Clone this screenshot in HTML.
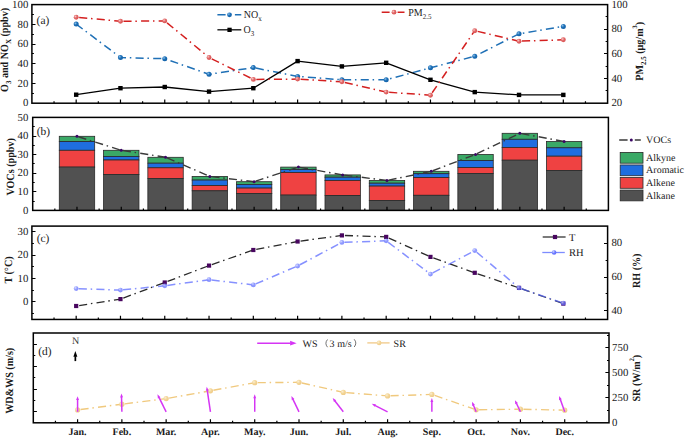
<!DOCTYPE html>
<html><head><meta charset="utf-8"><title>Figure</title>
<style>
html,body{margin:0;padding:0;background:#fff;}
body{width:685px;height:438px;overflow:hidden;}
svg{display:block;font-family:"Liberation Serif",serif;text-rendering:geometricPrecision;}
text{fill:#1a1a1a;}
</style></head>
<body>
<svg width="685" height="438" viewBox="0 0 685 438">
<defs>
<radialGradient id="gBlue" cx="0.35" cy="0.35" r="0.7"><stop offset="0" stop-color="#8fc0ea"/><stop offset="0.45" stop-color="#1f72b8"/><stop offset="1" stop-color="#0f5ea6"/></radialGradient>
<radialGradient id="gRed" cx="0.35" cy="0.35" r="0.7"><stop offset="0" stop-color="#f6c9c9"/><stop offset="0.45" stop-color="#e26a6a"/><stop offset="1" stop-color="#d85050"/></radialGradient>
<radialGradient id="gRH" cx="0.35" cy="0.35" r="0.7"><stop offset="0" stop-color="#d0d6ff"/><stop offset="0.5" stop-color="#6f7cff"/><stop offset="1" stop-color="#5a68ff"/></radialGradient>
<radialGradient id="gSR" cx="0.35" cy="0.35" r="0.7"><stop offset="0" stop-color="#fbefd2"/><stop offset="0.5" stop-color="#f3d699"/><stop offset="1" stop-color="#efca84"/></radialGradient>
</defs>
<rect width="685" height="438" fill="#fff"/>
<rect x="31.9" y="4.6" width="575.7" height="98.6" fill="none" stroke="#000" stroke-width="1.5"/>
<path d="M76.18 103.2v-3.6M120.47 103.2v-3.6M164.75 103.2v-3.6M209.04 103.2v-3.6M253.32 103.2v-3.6M297.61 103.2v-3.6M341.89 103.2v-3.6M386.18 103.2v-3.6M430.46 103.2v-3.6M474.75 103.2v-3.6M519.03 103.2v-3.6M563.32 103.2v-3.6M54.04 103.2v-2M98.33 103.2v-2M142.61 103.2v-2M186.9 103.2v-2M231.18 103.2v-2M275.47 103.2v-2M319.75 103.2v-2M364.03 103.2v-2M408.32 103.2v-2M452.6 103.2v-2M496.89 103.2v-2M541.17 103.2v-2M585.46 103.2v-2" stroke="#000" stroke-width="1.2"/>
<path d="M31.9 83.5h3.6M31.9 63.5h3.6M31.9 44.5h3.6M31.9 24.5h3.6M31.9 93.5h2M31.9 73.5h2M31.9 53.5h2M31.9 34.5h2M31.9 14.5h2" stroke="#000" stroke-width="1.2"/>
<path d="M607.6 78.5h-3.6M607.6 53.5h-3.6M607.6 29.5h-3.6M607.6 90.5h-2M607.6 66.5h-2M607.6 41.5h-2M607.6 16.5h-2" stroke="#000" stroke-width="1.2"/>
<text x="28.3" y="106.4" font-size="10.8" text-anchor="end" >0</text>
<text x="28.3" y="86.68" font-size="10.8" text-anchor="end" >20</text>
<text x="28.3" y="66.96" font-size="10.8" text-anchor="end" >40</text>
<text x="28.3" y="47.24" font-size="10.8" text-anchor="end" >60</text>
<text x="28.3" y="27.52" font-size="10.8" text-anchor="end" >80</text>
<text x="28.3" y="7.8" font-size="10.8" text-anchor="end" >100</text>
<text x="611.4" y="106.4" font-size="10.8" text-anchor="start" >20</text>
<text x="611.4" y="81.75" font-size="10.8" text-anchor="start" >40</text>
<text x="611.4" y="57.1" font-size="10.8" text-anchor="start" >60</text>
<text x="611.4" y="32.45" font-size="10.8" text-anchor="start" >80</text>
<text x="611.4" y="7.8" font-size="10.8" text-anchor="start" >100</text>
<polyline points="76.18,24.1 120.47,57.5 164.75,58.7 209.04,74.3 253.32,67.6 297.61,76.4 341.89,79.8 386.18,79.8 430.46,67.8 474.75,56.3 519.03,33.8 563.32,26.4" fill="none" stroke="#1f70b6" stroke-width="1.5" stroke-dasharray="8.1 3.8 1.5 4.24" stroke-dashoffset="0" stroke-linejoin="round" />
<circle cx="76.18" cy="24.1" r="2.5" fill="url(#gBlue)"/>
<circle cx="120.47" cy="57.5" r="2.5" fill="url(#gBlue)"/>
<circle cx="164.75" cy="58.7" r="2.5" fill="url(#gBlue)"/>
<circle cx="209.04" cy="74.3" r="2.5" fill="url(#gBlue)"/>
<circle cx="253.32" cy="67.6" r="2.5" fill="url(#gBlue)"/>
<circle cx="297.61" cy="76.4" r="2.5" fill="url(#gBlue)"/>
<circle cx="341.89" cy="79.8" r="2.5" fill="url(#gBlue)"/>
<circle cx="386.18" cy="79.8" r="2.5" fill="url(#gBlue)"/>
<circle cx="430.46" cy="67.8" r="2.5" fill="url(#gBlue)"/>
<circle cx="474.75" cy="56.3" r="2.5" fill="url(#gBlue)"/>
<circle cx="519.03" cy="33.8" r="2.5" fill="url(#gBlue)"/>
<circle cx="563.32" cy="26.4" r="2.5" fill="url(#gBlue)"/>
<polyline points="76.18,94.7 120.47,88.2 164.75,87 209.04,91.6 253.32,88.2 297.61,61.1 341.89,66.4 386.18,62.8 430.46,79.8 474.75,92.1 519.03,94.9 563.32,94.9" fill="none" stroke="#000" stroke-width="1.3" stroke-linejoin="round" />
<rect x="73.98" y="92.5" width="4.4" height="4.4" fill="#000"/>
<rect x="118.27" y="86" width="4.4" height="4.4" fill="#000"/>
<rect x="162.55" y="84.8" width="4.4" height="4.4" fill="#000"/>
<rect x="206.84" y="89.4" width="4.4" height="4.4" fill="#000"/>
<rect x="251.12" y="86" width="4.4" height="4.4" fill="#000"/>
<rect x="295.41" y="58.9" width="4.4" height="4.4" fill="#000"/>
<rect x="339.69" y="64.2" width="4.4" height="4.4" fill="#000"/>
<rect x="383.98" y="60.6" width="4.4" height="4.4" fill="#000"/>
<rect x="428.26" y="77.6" width="4.4" height="4.4" fill="#000"/>
<rect x="472.55" y="89.9" width="4.4" height="4.4" fill="#000"/>
<rect x="516.83" y="92.7" width="4.4" height="4.4" fill="#000"/>
<rect x="561.12" y="92.7" width="4.4" height="4.4" fill="#000"/>
<path d="M79.17 17.48L120.47 21.3M123.47 21.27L164.75 20.9M167.07 22.81L209.04 57.5M211.73 58.83L253.32 79.4M256.32 79.38L297.61 79.1M300.6 79.28L341.89 81.8M344.81 82.48L386.18 92.1M389.17 92.31L430.46 95.2M432.16 92.73L474.75 30.7M477.67 31.39L519.03 41.2M522.03 41.11L563.32 39.8" fill="none" stroke="#d42020" stroke-width="1.5" stroke-dasharray="8.1 3.8 1.5 4.2"/>
<circle cx="76.18" cy="17.2" r="2.45" fill="url(#gRed)"/>
<circle cx="120.47" cy="21.3" r="2.45" fill="url(#gRed)"/>
<circle cx="164.75" cy="20.9" r="2.45" fill="url(#gRed)"/>
<circle cx="209.04" cy="57.5" r="2.45" fill="url(#gRed)"/>
<circle cx="253.32" cy="79.4" r="2.45" fill="url(#gRed)"/>
<circle cx="297.61" cy="79.1" r="2.45" fill="url(#gRed)"/>
<circle cx="341.89" cy="81.8" r="2.45" fill="url(#gRed)"/>
<circle cx="386.18" cy="92.1" r="2.45" fill="url(#gRed)"/>
<circle cx="430.46" cy="95.2" r="2.45" fill="url(#gRed)"/>
<circle cx="474.75" cy="30.7" r="2.45" fill="url(#gRed)"/>
<circle cx="519.03" cy="41.2" r="2.45" fill="url(#gRed)"/>
<circle cx="563.32" cy="39.8" r="2.45" fill="url(#gRed)"/>
<path d="M217.4 14.8h8.2M234.9 14.8h6.4" stroke="#1f70b6" stroke-width="1.4"/>
<circle cx="229.5" cy="14.8" r="2.4" fill="url(#gBlue)"/>
<text x="243.8" y="18.3" font-size="10" text-anchor="start" transform="translate(0 18.3) scale(1 1.06) translate(0 -18.3)">NO<tspan font-size="7" dy="2.6">x</tspan></text>
<path d="M217.4 29.8h23.9" stroke="#1a1a1a" stroke-width="1.4"/>
<rect x="227.4" y="27.7" width="4.3" height="4.3" fill="#000"/>
<text x="243.5" y="33.1" font-size="10" text-anchor="start" transform="translate(0 33.1) scale(1 1.06) translate(0 -33.1)">O<tspan font-size="7" dy="2.6">3</tspan></text>
<path d="M381.7 12.2h7.9M397.6 12.2h6.9" stroke="#d42020" stroke-width="1.4"/>
<circle cx="394" cy="12.2" r="2.4" fill="url(#gRed)"/>
<text x="408.2" y="16" font-size="10" text-anchor="start" transform="translate(0 16) scale(1 1.06) translate(0 -16)">PM<tspan font-size="7" dy="3">2.5</tspan></text>
<text x="36.6" y="24.2" font-size="11.4" text-anchor="start" >(a)</text>
<text transform="translate(8.2 49.9) rotate(-90) scale(0.92 1)" x="0" y="0" font-size="11" font-weight="bold" text-anchor="middle">O<tspan font-size="7.5" dy="2.6">3</tspan><tspan dy="-2.6"> and NO</tspan><tspan font-size="7.5" dy="2.6">X</tspan><tspan dy="-2.6"> (ppbv)</tspan></text>
<text transform="translate(643.4 51.3) rotate(-90) scale(0.92 1)" x="0" y="0" font-size="11" font-weight="bold" text-anchor="middle">PM<tspan font-size="7.5" dy="2.6">2.5</tspan><tspan dy="-2.6"> (&#956;g/m</tspan><tspan font-size="6.8" dy="-6">3</tspan><tspan dy="6">)</tspan></text>
<rect x="59.28" y="136.3" width="35.4" height="5.3" fill="#3aa966" stroke="#2a2a2a" stroke-width="0.8"/>
<rect x="59.28" y="141.6" width="35.4" height="8.7" fill="#1f6ee0" stroke="#2a2a2a" stroke-width="0.8"/>
<rect x="59.28" y="150.3" width="35.4" height="16.8" fill="#ef4242" stroke="#2a2a2a" stroke-width="0.8"/>
<rect x="59.28" y="167.1" width="35.4" height="43.3" fill="#515151" stroke="#2a2a2a" stroke-width="0.8"/>
<rect x="103.57" y="150.3" width="35.4" height="6.2" fill="#3aa966" stroke="#2a2a2a" stroke-width="0.8"/>
<rect x="103.57" y="156.5" width="35.4" height="3.5" fill="#1f6ee0" stroke="#2a2a2a" stroke-width="0.8"/>
<rect x="103.57" y="160" width="35.4" height="14.5" fill="#ef4242" stroke="#2a2a2a" stroke-width="0.8"/>
<rect x="103.57" y="174.5" width="35.4" height="35.9" fill="#515151" stroke="#2a2a2a" stroke-width="0.8"/>
<rect x="147.85" y="157.3" width="35.4" height="5.9" fill="#3aa966" stroke="#2a2a2a" stroke-width="0.8"/>
<rect x="147.85" y="163.2" width="35.4" height="4.6" fill="#1f6ee0" stroke="#2a2a2a" stroke-width="0.8"/>
<rect x="147.85" y="167.8" width="35.4" height="10.7" fill="#ef4242" stroke="#2a2a2a" stroke-width="0.8"/>
<rect x="147.85" y="178.5" width="35.4" height="31.9" fill="#515151" stroke="#2a2a2a" stroke-width="0.8"/>
<rect x="192.14" y="176.4" width="35.4" height="3.7" fill="#3aa966" stroke="#2a2a2a" stroke-width="0.8"/>
<rect x="192.14" y="180.1" width="35.4" height="5.5" fill="#1f6ee0" stroke="#2a2a2a" stroke-width="0.8"/>
<rect x="192.14" y="185.6" width="35.4" height="5.2" fill="#ef4242" stroke="#2a2a2a" stroke-width="0.8"/>
<rect x="192.14" y="190.8" width="35.4" height="19.6" fill="#515151" stroke="#2a2a2a" stroke-width="0.8"/>
<rect x="236.42" y="181.7" width="35.4" height="2.7" fill="#3aa966" stroke="#2a2a2a" stroke-width="0.8"/>
<rect x="236.42" y="184.4" width="35.4" height="3.7" fill="#1f6ee0" stroke="#2a2a2a" stroke-width="0.8"/>
<rect x="236.42" y="188.1" width="35.4" height="5.4" fill="#ef4242" stroke="#2a2a2a" stroke-width="0.8"/>
<rect x="236.42" y="193.5" width="35.4" height="16.9" fill="#515151" stroke="#2a2a2a" stroke-width="0.8"/>
<rect x="280.71" y="167.1" width="35.4" height="2.4" fill="#3aa966" stroke="#2a2a2a" stroke-width="0.8"/>
<rect x="280.71" y="169.5" width="35.4" height="3" fill="#1f6ee0" stroke="#2a2a2a" stroke-width="0.8"/>
<rect x="280.71" y="172.5" width="35.4" height="22.6" fill="#ef4242" stroke="#2a2a2a" stroke-width="0.8"/>
<rect x="280.71" y="195.1" width="35.4" height="15.3" fill="#515151" stroke="#2a2a2a" stroke-width="0.8"/>
<rect x="324.99" y="174.9" width="35.4" height="2.3" fill="#3aa966" stroke="#2a2a2a" stroke-width="0.8"/>
<rect x="324.99" y="177.2" width="35.4" height="3.2" fill="#1f6ee0" stroke="#2a2a2a" stroke-width="0.8"/>
<rect x="324.99" y="180.4" width="35.4" height="15.2" fill="#ef4242" stroke="#2a2a2a" stroke-width="0.8"/>
<rect x="324.99" y="195.6" width="35.4" height="14.8" fill="#515151" stroke="#2a2a2a" stroke-width="0.8"/>
<rect x="369.28" y="180.5" width="35.4" height="2.7" fill="#3aa966" stroke="#2a2a2a" stroke-width="0.8"/>
<rect x="369.28" y="183.2" width="35.4" height="2.9" fill="#1f6ee0" stroke="#2a2a2a" stroke-width="0.8"/>
<rect x="369.28" y="186.1" width="35.4" height="14.4" fill="#ef4242" stroke="#2a2a2a" stroke-width="0.8"/>
<rect x="369.28" y="200.5" width="35.4" height="9.9" fill="#515151" stroke="#2a2a2a" stroke-width="0.8"/>
<rect x="413.56" y="171.3" width="35.4" height="2.4" fill="#3aa966" stroke="#2a2a2a" stroke-width="0.8"/>
<rect x="413.56" y="173.7" width="35.4" height="3.9" fill="#1f6ee0" stroke="#2a2a2a" stroke-width="0.8"/>
<rect x="413.56" y="177.6" width="35.4" height="17.7" fill="#ef4242" stroke="#2a2a2a" stroke-width="0.8"/>
<rect x="413.56" y="195.3" width="35.4" height="15.1" fill="#515151" stroke="#2a2a2a" stroke-width="0.8"/>
<rect x="457.85" y="154.4" width="35.4" height="6.2" fill="#3aa966" stroke="#2a2a2a" stroke-width="0.8"/>
<rect x="457.85" y="160.6" width="35.4" height="7" fill="#1f6ee0" stroke="#2a2a2a" stroke-width="0.8"/>
<rect x="457.85" y="167.6" width="35.4" height="5.9" fill="#ef4242" stroke="#2a2a2a" stroke-width="0.8"/>
<rect x="457.85" y="173.5" width="35.4" height="36.9" fill="#515151" stroke="#2a2a2a" stroke-width="0.8"/>
<rect x="502.13" y="133.3" width="35.4" height="6" fill="#3aa966" stroke="#2a2a2a" stroke-width="0.8"/>
<rect x="502.13" y="139.3" width="35.4" height="8.1" fill="#1f6ee0" stroke="#2a2a2a" stroke-width="0.8"/>
<rect x="502.13" y="147.4" width="35.4" height="12.8" fill="#ef4242" stroke="#2a2a2a" stroke-width="0.8"/>
<rect x="502.13" y="160.2" width="35.4" height="50.2" fill="#515151" stroke="#2a2a2a" stroke-width="0.8"/>
<rect x="546.42" y="141.5" width="35.4" height="6.3" fill="#3aa966" stroke="#2a2a2a" stroke-width="0.8"/>
<rect x="546.42" y="147.8" width="35.4" height="8.4" fill="#1f6ee0" stroke="#2a2a2a" stroke-width="0.8"/>
<rect x="546.42" y="156.2" width="35.4" height="14.2" fill="#ef4242" stroke="#2a2a2a" stroke-width="0.8"/>
<rect x="546.42" y="170.4" width="35.4" height="40" fill="#515151" stroke="#2a2a2a" stroke-width="0.8"/>
<rect x="32.7" y="117.4" width="575.7" height="93" fill="none" stroke="#000" stroke-width="1.5"/>
<path d="M76.98 210.4v-3.6M121.27 210.4v-3.6M165.55 210.4v-3.6M209.84 210.4v-3.6M254.12 210.4v-3.6M298.41 210.4v-3.6M342.69 210.4v-3.6M386.98 210.4v-3.6M431.26 210.4v-3.6M475.55 210.4v-3.6M519.83 210.4v-3.6M564.12 210.4v-3.6M54.84 210.4v-2M99.13 210.4v-2M143.41 210.4v-2M187.7 210.4v-2M231.98 210.4v-2M276.27 210.4v-2M320.55 210.4v-2M364.83 210.4v-2M409.12 210.4v-2M453.4 210.4v-2M497.69 210.4v-2M541.97 210.4v-2M586.26 210.4v-2" stroke="#000" stroke-width="1.2"/>
<path d="M32.7 191.5h3.6M32.7 173.5h3.6M32.7 154.5h3.6M32.7 136.5h3.6M32.7 201.5h2M32.7 182.5h2M32.7 163.5h2M32.7 145.5h2M32.7 126.5h2" stroke="#000" stroke-width="1.2"/>
<text x="28.3" y="213.6" font-size="10.8" text-anchor="end" >0</text>
<text x="28.3" y="195" font-size="10.8" text-anchor="end" >10</text>
<text x="28.3" y="176.4" font-size="10.8" text-anchor="end" >20</text>
<text x="28.3" y="157.8" font-size="10.8" text-anchor="end" >30</text>
<text x="28.3" y="139.2" font-size="10.8" text-anchor="end" >40</text>
<text x="28.3" y="120.6" font-size="10.8" text-anchor="end" >50</text>
<path d="M78.51 136.78L121.27 150.3M122.85 150.55L165.55 157.3M167.02 157.93L209.84 176.4M211.43 176.59L254.12 181.7M255.64 181.2L298.41 167.1M299.98 167.38L342.69 174.9M344.28 175.1L386.98 180.5M388.54 180.17L431.26 171.3M432.76 170.73L475.55 154.4M476.99 153.71L519.83 133.3M521.4 133.59L564.12 141.5" fill="none" stroke="#3a3a3a" stroke-width="1.4" stroke-dasharray="8.1 3.8 1.5 4.2"/>
<circle cx="76.98" cy="136.3" r="1.5" fill="#3b0764"/>
<circle cx="121.27" cy="150.3" r="1.5" fill="#3b0764"/>
<circle cx="165.55" cy="157.3" r="1.5" fill="#3b0764"/>
<circle cx="209.84" cy="176.4" r="1.5" fill="#3b0764"/>
<circle cx="254.12" cy="181.7" r="1.5" fill="#3b0764"/>
<circle cx="298.41" cy="167.1" r="1.5" fill="#3b0764"/>
<circle cx="342.69" cy="174.9" r="1.5" fill="#3b0764"/>
<circle cx="386.98" cy="180.5" r="1.5" fill="#3b0764"/>
<circle cx="431.26" cy="171.3" r="1.5" fill="#3b0764"/>
<circle cx="475.55" cy="154.4" r="1.5" fill="#3b0764"/>
<circle cx="519.83" cy="133.3" r="1.5" fill="#3b0764"/>
<circle cx="564.12" cy="141.5" r="1.5" fill="#3b0764"/>
<path d="M619.2 140h8.4M634.8 140h6.0" stroke="#3a3a3a" stroke-width="1.3"/>
<circle cx="631.3" cy="140" r="1.5" fill="#3b0764"/>
<text x="646.1" y="143.4" font-size="10" text-anchor="start" >VOCs</text>
<rect x="620.2" y="152.4" width="22.8" height="10.8" fill="#3aa966" stroke="#2a2a2a" stroke-width="0.8"/>
<text x="646.1" y="160.9" font-size="10" text-anchor="start" >Alkyne</text>
<rect x="620.2" y="164.95" width="22.8" height="10.8" fill="#1f6ee0" stroke="#2a2a2a" stroke-width="0.8"/>
<text x="646.1" y="173.45" font-size="10" text-anchor="start" >Aromatic</text>
<rect x="620.2" y="177.5" width="22.8" height="10.8" fill="#ef4242" stroke="#2a2a2a" stroke-width="0.8"/>
<text x="646.1" y="186" font-size="10" text-anchor="start" >Alkene</text>
<rect x="620.2" y="190.05" width="22.8" height="10.8" fill="#515151" stroke="#2a2a2a" stroke-width="0.8"/>
<text x="646.1" y="198.55" font-size="10" text-anchor="start" >Alkane</text>
<text x="36.7" y="134.8" font-size="11.4" text-anchor="start" >(b)</text>
<text transform="translate(14.1 166.9) rotate(-90) scale(0.92 1)" x="0" y="0" font-size="11" font-weight="bold" text-anchor="middle">VOCs (ppbv)</text>
<rect x="31.9" y="226.1" width="575.7" height="93.35" fill="none" stroke="#000" stroke-width="1.5"/>
<path d="M76.18 319.45v-3.6M120.47 319.45v-3.6M164.75 319.45v-3.6M209.04 319.45v-3.6M253.32 319.45v-3.6M297.61 319.45v-3.6M341.89 319.45v-3.6M386.18 319.45v-3.6M430.46 319.45v-3.6M474.75 319.45v-3.6M519.03 319.45v-3.6M563.32 319.45v-3.6M54.04 319.45v-2M98.33 319.45v-2M142.61 319.45v-2M186.9 319.45v-2M231.18 319.45v-2M275.47 319.45v-2M319.75 319.45v-2M364.03 319.45v-2M408.32 319.45v-2M452.6 319.45v-2M496.89 319.45v-2M541.17 319.45v-2M585.46 319.45v-2" stroke="#000" stroke-width="1.2"/>
<path d="M31.9 301.5h3.6M31.9 278.5h3.6M31.9 255.5h3.6M31.9 231.5h3.6M31.9 313.5h2M31.9 290.5h2M31.9 266.5h2M31.9 243.5h2" stroke="#000" stroke-width="1.2"/>
<text x="28.3" y="305.15" font-size="10.8" text-anchor="end" >0</text>
<text x="28.3" y="281.81" font-size="10.8" text-anchor="end" >10</text>
<text x="28.3" y="258.47" font-size="10.8" text-anchor="end" >20</text>
<text x="28.3" y="235.13" font-size="10.8" text-anchor="end" >30</text>
<path d="M607.6 310.5h-3.6M607.6 277.5h-3.6M607.6 243.5h-3.6M607.6 293.5h-2M607.6 260.5h-2" stroke="#000" stroke-width="1.2"/>
<text x="611.4" y="314.16" font-size="10.8" text-anchor="start" >40</text>
<text x="611.4" y="280.22" font-size="10.8" text-anchor="start" >60</text>
<text x="611.4" y="246.27" font-size="10.8" text-anchor="start" >80</text>
<path d="M79.15 305.54L120.47 299.1M123.28 298.05L164.75 282.5M167.56 281.43L209.04 265.6M211.87 264.6L253.32 250M256.27 249.43L297.61 241.5M300.58 241.09L341.89 235.4M344.89 235.5L386.18 236.9M388.91 238.13L430.46 256.9M433.29 257.91L474.75 272.8M477.59 273.77L519.03 287.9M521.86 288.9L563.32 303.6" fill="none" stroke="#2a2a2a" stroke-width="1.3" stroke-dasharray="8.1 3.8 1.5 4.2"/>
<rect x="74.08" y="303.9" width="4.2" height="4.2" fill="#48065f"/>
<rect x="118.37" y="297" width="4.2" height="4.2" fill="#48065f"/>
<rect x="162.65" y="280.4" width="4.2" height="4.2" fill="#48065f"/>
<rect x="206.94" y="263.5" width="4.2" height="4.2" fill="#48065f"/>
<rect x="251.22" y="247.9" width="4.2" height="4.2" fill="#48065f"/>
<rect x="295.51" y="239.4" width="4.2" height="4.2" fill="#48065f"/>
<rect x="339.79" y="233.3" width="4.2" height="4.2" fill="#48065f"/>
<rect x="384.08" y="234.8" width="4.2" height="4.2" fill="#48065f"/>
<rect x="428.36" y="254.8" width="4.2" height="4.2" fill="#48065f"/>
<rect x="472.65" y="270.7" width="4.2" height="4.2" fill="#48065f"/>
<rect x="516.93" y="285.8" width="4.2" height="4.2" fill="#48065f"/>
<rect x="561.22" y="301.5" width="4.2" height="4.2" fill="#48065f"/>
<path d="M78.78 288.69L120.47 290.1M123.06 289.85L164.75 285.8M167.33 285.45L209.04 279.7M211.62 280L253.32 284.9M255.71 283.88L297.61 266M299.9 264.78L341.89 242.4M344.49 242.31L386.18 240.8M388.25 242.36L430.46 274.1M432.76 272.88L474.75 250.6M476.73 252.27L519.03 287.9M521.49 288.75L563.32 303.2" fill="none" stroke="#5866ff" stroke-width="1.5" stroke-dasharray="8.1 3.8 1.5 4.2" stroke-opacity="0.72"/>
<circle cx="76.18" cy="288.6" r="2.4" fill="url(#gRH)" fill-opacity="0.75"/>
<circle cx="120.47" cy="290.1" r="2.4" fill="url(#gRH)" fill-opacity="0.75"/>
<circle cx="164.75" cy="285.8" r="2.4" fill="url(#gRH)" fill-opacity="0.75"/>
<circle cx="209.04" cy="279.7" r="2.4" fill="url(#gRH)" fill-opacity="0.75"/>
<circle cx="253.32" cy="284.9" r="2.4" fill="url(#gRH)" fill-opacity="0.75"/>
<circle cx="297.61" cy="266" r="2.4" fill="url(#gRH)" fill-opacity="0.75"/>
<circle cx="341.89" cy="242.4" r="2.4" fill="url(#gRH)" fill-opacity="0.75"/>
<circle cx="386.18" cy="240.8" r="2.4" fill="url(#gRH)" fill-opacity="0.75"/>
<circle cx="430.46" cy="274.1" r="2.4" fill="url(#gRH)" fill-opacity="0.75"/>
<circle cx="474.75" cy="250.6" r="2.4" fill="url(#gRH)" fill-opacity="0.75"/>
<circle cx="519.03" cy="287.9" r="2.4" fill="url(#gRH)" fill-opacity="0.75"/>
<circle cx="563.32" cy="303.2" r="2.4" fill="url(#gRH)" fill-opacity="0.75"/>
<path d="M542.7 237h22.9" stroke="#333" stroke-width="1.3"/>
<rect x="552.9" y="234.9" width="4.2" height="4.2" fill="#48065f"/>
<text x="569" y="240.6" font-size="10.5" text-anchor="start" >T</text>
<path d="M542.3 252.5h22.5" stroke="#7d8cff" stroke-width="1.3"/>
<circle cx="554.1" cy="252.5" r="2.3" fill="url(#gRH)"/>
<text x="569" y="256.1" font-size="10.5" text-anchor="start" >RH</text>
<text x="36.7" y="242.1" font-size="11.4" text-anchor="start" >(c)</text>
<text transform="translate(12.3 270) rotate(-90) scale(0.92 1)" x="0" y="0" font-size="11" font-weight="bold" text-anchor="middle">T (&#176;C)</text>
<text transform="translate(639.6 270.8) rotate(-90) scale(0.92 1)" x="0" y="0" font-size="11" font-weight="bold" text-anchor="middle">RH (%)</text>
<rect x="33.3" y="333" width="575.7" height="89.8" fill="none" stroke="#000" stroke-width="1.5"/>
<path d="M77.58 422.8v-3.6M121.87 422.8v-3.6M166.15 422.8v-3.6M210.44 422.8v-3.6M254.72 422.8v-3.6M299.01 422.8v-3.6M343.29 422.8v-3.6M387.58 422.8v-3.6M431.86 422.8v-3.6M476.15 422.8v-3.6M520.43 422.8v-3.6M564.72 422.8v-3.6M55.44 422.8v-2M99.73 422.8v-2M144.01 422.8v-2M188.3 422.8v-2M232.58 422.8v-2M276.87 422.8v-2M321.15 422.8v-2M365.43 422.8v-2M409.72 422.8v-2M454 422.8v-2M498.29 422.8v-2M542.57 422.8v-2M586.86 422.8v-2" stroke="#000" stroke-width="1.2"/>
<path d="M33.3 344.5h3.6M33.3 366.5h3.6M33.3 389.5h3.6M33.3 411.5h3.6M33.3 355.5h2M33.3 377.5h2M33.3 400.5h2" stroke="#000" stroke-width="1.2"/>
<path d="M609 397.5h-3.6M609 372.5h-3.6M609 347.5h-3.6M609 410.5h-2M609 385.5h-2M609 360.5h-2M609 335.5h-2" stroke="#000" stroke-width="1.2"/>
<text x="612.1" y="426" font-size="10.8" text-anchor="start" >0</text>
<text x="612.1" y="401.06" font-size="10.8" text-anchor="start" >250</text>
<text x="612.1" y="376.11" font-size="10.8" text-anchor="start" >500</text>
<text x="612.1" y="351.17" font-size="10.8" text-anchor="start" >750</text>
<path d="M80.56 409.52L121.87 404.2M124.85 403.82L166.15 398.6M169.11 398.08L210.44 390.8M213.39 390.26L254.72 382.7M257.72 382.67L299.01 382.3M301.93 382.97L343.29 392.4M346.28 392.64L387.58 395.9M390.58 395.8L431.86 394.4M434.7 395.39L476.15 409.8M479.15 409.76L520.43 409.2M523.43 409.27L564.72 410.2" fill="none" stroke="#f0c97e" stroke-width="1.4" stroke-dasharray="8.1 3.8 1.5 4.2"/>
<circle cx="77.58" cy="409.9" r="2.6" fill="url(#gSR)"/>
<circle cx="121.87" cy="404.2" r="2.6" fill="url(#gSR)"/>
<circle cx="166.15" cy="398.6" r="2.6" fill="url(#gSR)"/>
<circle cx="210.44" cy="390.8" r="2.6" fill="url(#gSR)"/>
<circle cx="254.72" cy="382.7" r="2.6" fill="url(#gSR)"/>
<circle cx="299.01" cy="382.3" r="2.6" fill="url(#gSR)"/>
<circle cx="343.29" cy="392.4" r="2.6" fill="url(#gSR)"/>
<circle cx="387.58" cy="395.9" r="2.6" fill="url(#gSR)"/>
<circle cx="431.86" cy="394.4" r="2.6" fill="url(#gSR)"/>
<circle cx="476.15" cy="409.8" r="2.6" fill="url(#gSR)"/>
<circle cx="520.43" cy="409.2" r="2.6" fill="url(#gSR)"/>
<circle cx="564.72" cy="410.2" r="2.6" fill="url(#gSR)"/>
<path d="M77.58 411.8L77.58 399.6" stroke="#d535f4" stroke-width="1.5"/>
<path d="M77.58 396.2L79.03 400.1L76.13 400.1Z" fill="#d535f4"/>
<path d="M121.87 411.8L121.54 396.9" stroke="#d535f4" stroke-width="1.5"/>
<path d="M121.47 393.5L123 397.37L120.1 397.43Z" fill="#d535f4"/>
<path d="M166.15 411.8L158.97 397.34" stroke="#d535f4" stroke-width="1.5"/>
<path d="M157.45 394.3L160.49 397.15L157.89 398.44Z" fill="#d535f4"/>
<path d="M210.44 411.8L207.24 390.16" stroke="#d535f4" stroke-width="1.5"/>
<path d="M206.74 386.8L208.74 390.45L205.88 390.87Z" fill="#d535f4"/>
<path d="M254.72 411.8L254.72 397.7" stroke="#d535f4" stroke-width="1.5"/>
<path d="M254.72 394.3L256.17 398.2L253.27 398.2Z" fill="#d535f4"/>
<path d="M299.01 411.8L292.88 399.06" stroke="#d535f4" stroke-width="1.5"/>
<path d="M291.41 396L294.4 398.89L291.79 400.14Z" fill="#d535f4"/>
<path d="M343.29 411.8L334.77 400.79" stroke="#d535f4" stroke-width="1.5"/>
<path d="M332.69 398.1L336.23 400.3L333.93 402.07Z" fill="#d535f4"/>
<path d="M387.58 411.8L374.81 405.34" stroke="#d535f4" stroke-width="1.5"/>
<path d="M371.78 403.8L375.91 404.27L374.6 406.86Z" fill="#d535f4"/>
<path d="M431.86 411.8L431.86 401.5" stroke="#d535f4" stroke-width="1.5"/>
<path d="M431.86 398.1L433.31 402L430.41 402Z" fill="#d535f4"/>
<path d="M476.15 411.8L473.34 404.95" stroke="#d535f4" stroke-width="1.5"/>
<path d="M472.05 401.8L474.87 404.86L472.18 405.96Z" fill="#d535f4"/>
<path d="M520.43 411.8L516.39 403.27" stroke="#d535f4" stroke-width="1.5"/>
<path d="M514.93 400.2L517.91 403.1L515.29 404.35Z" fill="#d535f4"/>
<path d="M564.72 411.8L560.26 399.3" stroke="#d535f4" stroke-width="1.5"/>
<path d="M559.12 396.1L561.79 399.29L559.06 400.26Z" fill="#d535f4"/>
<path d="M75.35 361.1L75.35 356.2" stroke="#000" stroke-width="1.7"/>
<path d="M75.35 351.1L77.35 356.7L73.35 356.7Z" fill="#000"/>
<text x="75.6" y="344.1" font-size="10" text-anchor="middle" style="fill:#333">N</text>
<path d="M257.2 343.2L290.6 343.2" stroke="#d535f4" stroke-width="1.6"/>
<path d="M296.6 343.2L290.1 345.6L290.1 340.8Z" fill="#d535f4"/>
<text x="302.6" y="346.8" font-size="10" text-anchor="start" >WS</text>
<path d="M327.5 339.5Q324.3 343.3 327.5 347.2M354.2 339.3Q357.4 343.1 354.2 347.0" fill="none" stroke="#444" stroke-width="0.75"/>
<text x="329.5" y="346.8" font-size="10" text-anchor="start" >3</text>
<text x="337.3" y="346.8" font-size="10" text-anchor="start" >m/s</text>
<path d="M367.3 342.9h22.3" stroke="#f0c987" stroke-width="1.3"/>
<circle cx="379.1" cy="342.9" r="2.3" fill="url(#gSR)"/>
<text x="393.6" y="346.8" font-size="10" text-anchor="start" >SR</text>
<text x="38.3" y="354.8" font-size="11.4" text-anchor="start" >(d)</text>
<text transform="translate(12.9 380.8) rotate(-90) scale(0.92 1)" x="0" y="0" font-size="11" font-weight="bold" text-anchor="middle">WD&amp;WS (m/s)</text>
<text transform="translate(640.4 378.2) rotate(-90) scale(0.92 1)" x="0" y="0" font-size="11" font-weight="bold" text-anchor="middle">SR (W/m<tspan font-size="6.8" dy="-6">2</tspan><tspan dy="6">)</tspan></text>
<text x="77.58" y="435.2" font-size="10" text-anchor="middle" font-weight="bold" >Jan.</text>
<text x="121.87" y="435.2" font-size="10" text-anchor="middle" font-weight="bold" >Feb.</text>
<text x="166.15" y="435.2" font-size="10" text-anchor="middle" font-weight="bold" >Mar.</text>
<text x="210.44" y="435.2" font-size="10" text-anchor="middle" font-weight="bold" >Apr.</text>
<text x="254.72" y="435.2" font-size="10" text-anchor="middle" font-weight="bold" >May.</text>
<text x="299.01" y="435.2" font-size="10" text-anchor="middle" font-weight="bold" >Jun.</text>
<text x="343.29" y="435.2" font-size="10" text-anchor="middle" font-weight="bold" >Jul.</text>
<text x="387.58" y="435.2" font-size="10" text-anchor="middle" font-weight="bold" >Aug.</text>
<text x="431.86" y="435.2" font-size="10" text-anchor="middle" font-weight="bold" >Sep.</text>
<text x="476.15" y="435.2" font-size="10" text-anchor="middle" font-weight="bold" >Oct.</text>
<text x="520.43" y="435.2" font-size="10" text-anchor="middle" font-weight="bold" >Nov.</text>
<text x="564.72" y="435.2" font-size="10" text-anchor="middle" font-weight="bold" >Dec.</text>
</svg>
</body></html>
